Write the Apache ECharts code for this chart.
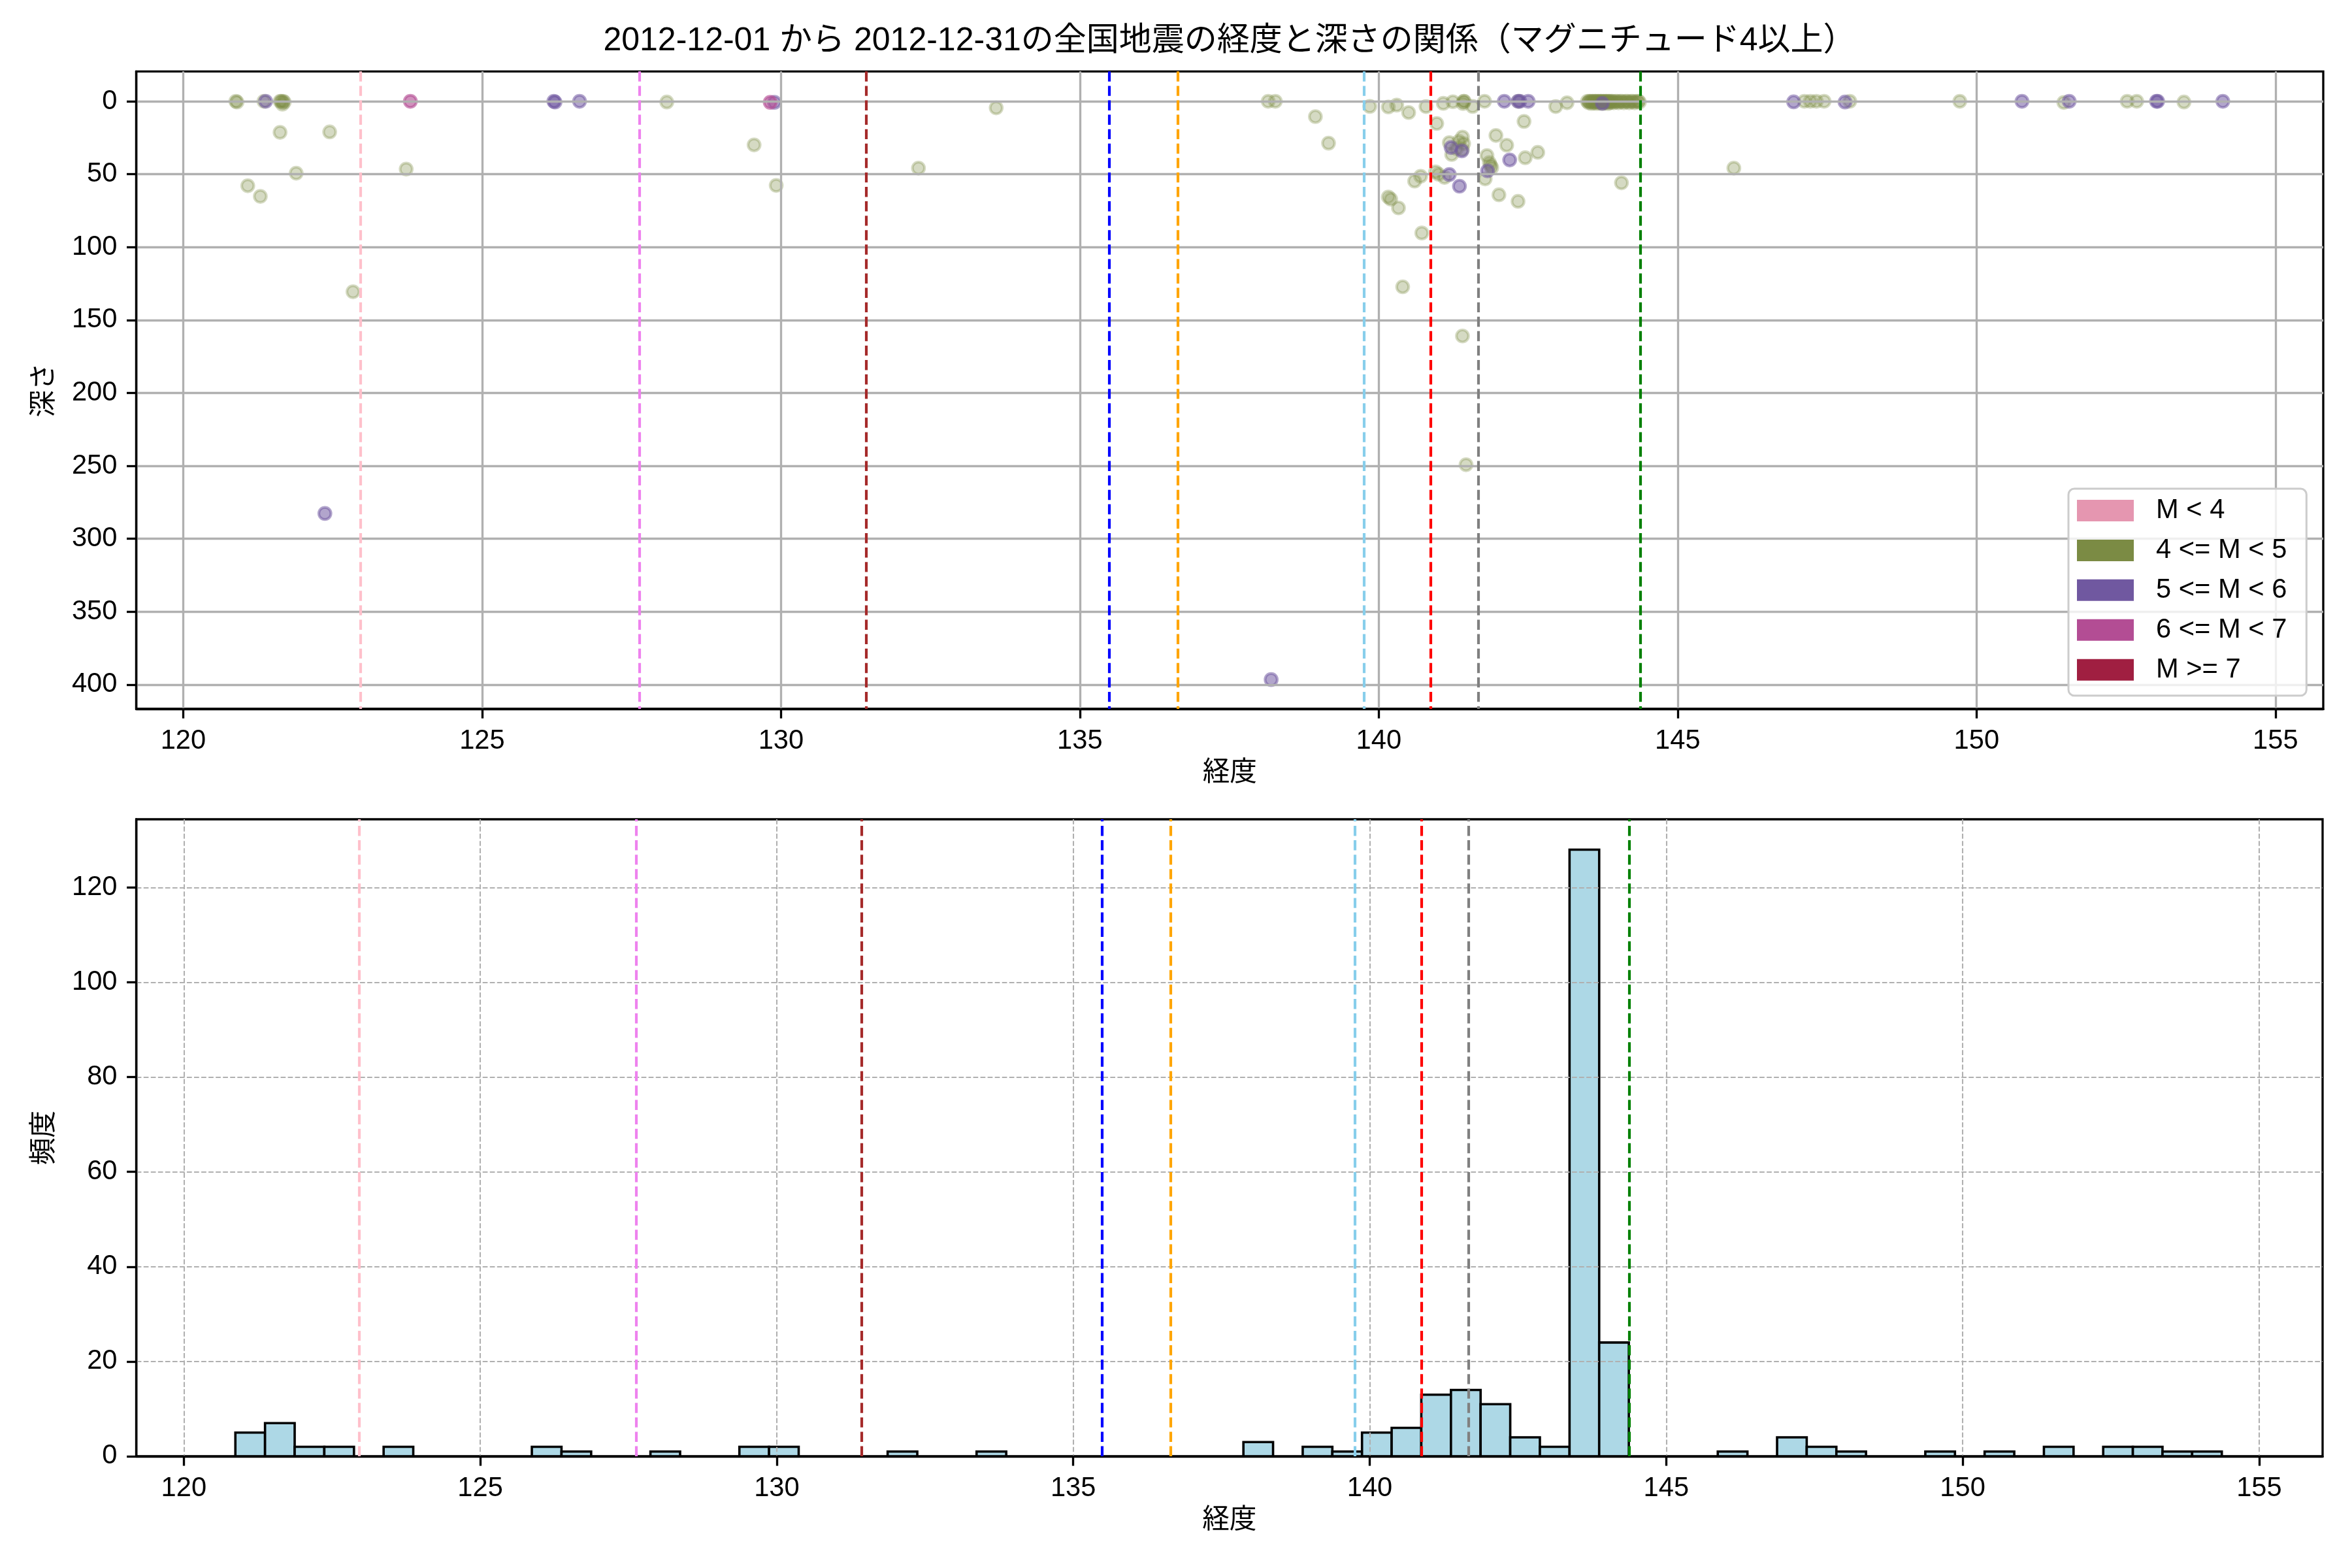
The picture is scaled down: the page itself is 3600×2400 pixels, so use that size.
<!DOCTYPE html>
<html>
<head>
<meta charset="utf-8">
<script src="https://cdn.jsdelivr.net/npm/echarts@6.0.0/dist/echarts.min.js"></script>
<style>html,body{margin:0;padding:0;background:#fff}#c{width:3600px;height:2400px}</style>
</head>
<body>
<div id="c"></div>
<script>
// ---------- data ----------
const titleText = '2012-12-01 から 2012-12-31の全国地震の経度と深さの関係（マグニチュード4以上）';
const classNames = ['M < 4', '4 <= M < 5', '5 <= M < 6', '6 <= M < 7', 'M >= 7'];
const xTicks = [120, 125, 130, 135, 140, 145, 150, 155];
const depthTicks = [0, 50, 100, 150, 200, 250, 300, 350, 400];
const countTicks = [0, 20, 40, 60, 80, 100, 120];

// [longitude, depth]
const quakesM4 = [];
const quakesM4to5 = [
  [120.88,0],[120.90,0.5],[121.08,57.9],[121.29,65.2],[121.35,0],[121.62,21.3],[121.62,0],[121.64,0],
  [121.66,2],[121.67,0],[121.69,0.5],[121.89,49.3],[122.45,21],[122.84,130.6],[123.73,46.5],[128.09,0.5],
  [129.55,29.9],[129.92,57.7],[132.30,45.8],[133.60,4.5],[138.15,0],[138.27,0],[138.94,10.5],[139.16,28.7],
  [139.85,3.5],[140.16,3.9],[140.30,2.6],[140.16,65.6],[140.20,67.1],[140.33,73.1],[140.50,7.7],[140.79,3.6],
  [140.70,51.4],[140.60,54.7],[140.72,90.3],[140.40,127.2],[140.97,15.2],[141.08,1.4],[141.24,0.3],[141.18,28.3],
  [141.34,27.5],[141.22,36.5],[140.95,48.4],[141.10,52.2],[141.30,32.5],[141.00,50.0],[141.42,0],[141.43,0],
  [141.41,1.5],[141.57,3.5],[141.77,0],[141.40,24.5],[141.42,29],[141.40,33],[141.81,37.2],[141.78,53.2],
  [141.40,160.9],[141.46,249.2],[141.85,42],[141.87,44],[141.89,45.5],[141.96,23.4],[142.34,0],[142.14,30.1],
  [142.01,64.1],[142.33,68.6],[142.43,13.8],[142.66,35],[142.45,38.7],[142.96,3.6],[143.15,1.0],
  [143.49,0],[143.51,1],[143.52,0],[143.54,0],[143.56,1.5],[143.57,0],[143.59,0],[143.60,1],[143.62,0],
  [143.63,0],[143.65,1.5],[143.66,0],[143.68,0],[143.69,1],[143.71,0],[143.72,0],[143.74,1.5],[143.75,0],
  [143.77,0],[143.78,1],[143.80,0],[143.81,0],[143.83,1.5],[143.84,0],[143.86,0],[143.87,1],[143.89,0],
  [143.91,0],[143.93,1],[143.96,0],[143.99,0],[144.01,1],[144.04,0],[144.07,0],[144.10,1],[144.13,0],
  [144.16,0],[144.19,1],[144.22,0],[144.25,0],[144.28,1],[144.31,0],[144.34,0],[144.36,0.5],
  [144.06,55.9],[145.94,45.8],[147.12,0],[147.22,0],[147.32,0],[147.45,0],[147.88,0],[149.72,0],
  [151.46,0.8],[152.52,0],[152.68,0],[153.47,0.5]
];
const quakesM5to6 = [
  [121.38,0],[122.37,282.6],[126.20,0],[126.22,0.5],[126.63,0],[129.89,0.7],[138.20,396.5],[141.21,31.7],
  [141.39,34],[141.18,50.2],[141.35,58.2],[141.82,47.7],[142.19,40.2],[142.10,0],[142.33,0],[142.36,0],
  [142.50,0],[143.74,1.4],[146.94,0.4],[147.80,0.5],[150.76,0],[151.55,0],[153.01,0],[153.03,0],[154.12,0]
];
const quakesM6to7 = [[123.80,0],[129.82,0.7]];
const quakesM7 = [];

// reference longitudes (dashed vertical lines)
const refLon = [122.96, 127.63, 131.43, 135.49, 136.64, 139.75, 140.87, 141.67, 144.38];

// histogram of longitude
const histStart = 120.87;
const binWidth = 0.5;
const histCounts = [
  5,7,2,2,0,2,0,0,0,0, 2,1,0,0,1,0,0,2,2,0,
  0,0,1,0,0,1,0,0,0,0, 0,0,0,0,3,0,2,1,5,6,
  13,14,11,4,2,128,24,0,0,0, 1,0,4,2,1,0,0,1,0,1,
  0,2,0,2,2,1,1
];

// ---------- styles ----------
const FONT = "'Liberation Sans', 'Noto Sans CJK JP', sans-serif";
const PT = 300 / 72;
const refColors = ['#ffc0cb', '#ee82ee', '#a52a2a', '#0000ff', '#ffa500', '#87ceeb', '#ff0000', '#808080', '#008000'];
const legendColors = ['#e596b0', '#7b8b44', '#7058a0', '#b34d94', '#a01f41'];
const pointRGB = ['229,150,176', '123,139,68', '112,88,160', '179,77,148', '160,31,65'];
const pointAlpha = [0.5, 0.4, 0.68, 0.78, 0.8];
const classData = [quakesM4, quakesM4to5, quakesM5to6, quakesM6to7, quakesM7];

const tickFont = 10 * PT;
const G0 = {left: 208.6, top: 109.3, width: 3347.4, height: 975.7};
const G1 = {left: 208.7, top: 1254, width: 3346.3, height: 975};

function xAxisCfg(gi, min, max, gridStyle) {
  return {
    gridIndex: gi, type: 'value', min: min, max: max, z: 3,
    axisLine: {show: true, onZero: false, lineStyle: {color: '#000', width: 0.8 * PT}},
    axisTick: {show: true, length: 3.5 * PT, customValues: xTicks, lineStyle: {color: '#000', width: 0.8 * PT}},
    axisLabel: {customValues: xTicks, fontSize: tickFont, color: '#000', margin: 7 * PT, fontFamily: FONT},
    splitLine: {show: true, lineStyle: gridStyle},
    name: '経度', nameLocation: 'middle', nameGap: 78,
    nameTextStyle: {fontSize: tickFont, color: '#000', fontFamily: FONT}
  };
}
function yAxisCfg(gi, min, max, ticks, inverse, name, gridStyle) {
  return {
    gridIndex: gi, type: 'value', min: min, max: max, inverse: inverse, z: 3,
    axisLine: {show: true, onZero: false, lineStyle: {color: '#000', width: 0.8 * PT}},
    axisTick: {show: true, length: 3.5 * PT, customValues: ticks, lineStyle: {color: '#000', width: 0.8 * PT}},
    axisLabel: {customValues: ticks, fontSize: tickFont, color: '#000', margin: 7 * PT, fontFamily: FONT},
    splitLine: {show: true, lineStyle: gridStyle},
    name: name, nameLocation: 'middle', nameGap: 119, nameRotate: 90,
    nameTextStyle: {fontSize: tickFont, color: '#000', fontFamily: FONT}
  };
}
const solidGrid = {color: '#b0b0b0', width: 0.8 * PT, type: 'solid'};
const dashedGrid = {color: '#b0b0b0', width: 0.5 * PT, type: [3.7 * 0.5 * PT, 1.6 * 0.5 * PT]};

function refLineSeries(xi, yi) {
  return {
    type: 'line', xAxisIndex: xi, yAxisIndex: yi, data: [], z: 5, silent: true,
    markLine: {
      silent: true, symbol: 'none', animation: false,
      label: {show: false},
      data: refLon.map((v, i) => ({
        xAxis: v,
        lineStyle: {color: refColors[i], width: 1 * PT, type: [3.7 * PT, 1.6 * PT]}
      }))
    }
  };
}

const scatterSeries = classNames.map((nm, i) => ({
  name: nm, type: 'scatter', xAxisIndex: 0, yAxisIndex: 0, z: 2,
  data: classData[i],
  symbol: 'circle', symbolSize: 18.5,
  itemStyle: {
    color: 'rgba(' + pointRGB[i] + ',' + pointAlpha[i] + ')',
    borderColor: 'rgba(' + pointRGB[i] + ',' + pointAlpha[i] + ')',
    borderWidth: 1 * PT
  }
}));

const histData = [];
histCounts.forEach((c, i) => {
  if (c > 0) histData.push([histStart + i * binWidth, histStart + (i + 1) * binWidth, c]);
});

const histSeries = {
  type: 'custom', xAxisIndex: 1, yAxisIndex: 1, z: 2, silent: true,
  data: histData,
  encode: {x: [0, 1], y: 2},
  renderItem: function (params, api) {
    const p0 = api.coord([api.value(0), api.value(2)]);
    const p1 = api.coord([api.value(1), 0]);
    return {
      type: 'rect',
      shape: {x: p0[0], y: p0[1], width: p1[0] - p0[0], height: p1[1] - p0[1]},
      style: {fill: '#add8e6', stroke: '#000', lineWidth: 3.6}
    };
  }
};

const option = {
  animation: false,
  backgroundColor: '#fff',
  textStyle: {fontFamily: FONT},
  title: {
    text: titleText, left: 1882, top: 38, textAlign: 'center', padding: 0,
    textStyle: {fontSize: 12 * PT, fontWeight: 'normal', color: '#000', fontFamily: FONT}
  },
  legend: {
    orient: 'vertical', left: 3166, top: 748,
    padding: [12.6, 30, 18.7, 13],
    itemWidth: 87, itemHeight: 33, itemGap: 19.3,
    icon: 'rect',
    backgroundColor: 'rgba(255,255,255,0.8)',
    borderColor: '#cccccc', borderWidth: 3, borderRadius: 9,
    itemStyle: {borderWidth: 0, opacity: 1},
    textStyle: {fontSize: tickFont, color: '#000', fontFamily: FONT, padding: [0, 0, 0, 29]},
    data: classNames.map((nm, i) => ({name: nm, itemStyle: {color: legendColors[i], opacity: 1, borderWidth: 0}}))
  },
  grid: [
    Object.assign({show: true, borderColor: '#000', borderWidth: 0.8 * PT, backgroundColor: 'transparent'}, G0),
    Object.assign({show: true, borderColor: '#000', borderWidth: 0.8 * PT, backgroundColor: 'transparent'}, G1)
  ],
  xAxis: [
    xAxisCfg(0, 119.215, 155.80, solidGrid),
    xAxisCfg(1, 119.2, 156.07, dashedGrid)
  ],
  yAxis: [
    yAxisCfg(0, -20.5, 416.6, depthTicks, true, '深さ', solidGrid),
    yAxisCfg(1, 0, 134.4, countTicks, false, '頻度', dashedGrid)
  ],
  series: scatterSeries.concat([histSeries, refLineSeries(0, 0), refLineSeries(1, 1)])
};

const chart = echarts.init(document.getElementById('c'), null, {renderer: 'canvas', width: 3600, height: 2400});
chart.setOption(option);
</script>
</body>
</html>
